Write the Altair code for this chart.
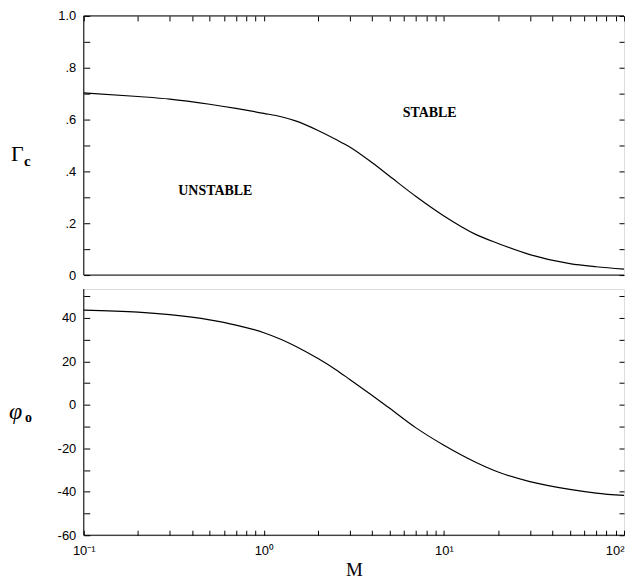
import altair as alt
import pandas as pd

# ---- data ----
M = [0.1, 0.2, 0.3, 0.5, 0.7, 1.0, 1.25, 1.5, 2.0, 2.5, 3.0, 4.0, 5.0, 7.0, 10, 15, 20, 30, 50, 70, 100]
gamma_c = [0.703, 0.689, 0.679, 0.659, 0.643, 0.624, 0.611, 0.595, 0.558, 0.524, 0.494, 0.433,
           0.381, 0.303, 0.228, 0.157, 0.122, 0.079, 0.044, 0.032, 0.023]
phi_o = [43.6, 42.7, 41.5, 39.1, 36.7, 33.2, 30.1, 27.0, 21.3, 16.3, 11.7, 4.3, -1.6, -10.6,
         -18.6, -26.4, -30.9, -35.3, -38.9, -40.6, -41.7]

x_ticks = [0.1, 0.2, 0.3, 0.4, 0.5, 0.6, 0.7, 0.8, 0.9,
           1, 2, 3, 4, 5, 6, 7, 8, 9,
           10, 20, 30, 40, 50, 60, 70, 80, 90, 100]
gamma_ticks = [0, 0.1, 0.2, 0.3, 0.4, 0.5, 0.6, 0.7, 0.8, 0.9, 1.0]
phi_ticks = [-60, -50, -40, -30, -20, -10, 0, 10, 20, 30, 40, 50]

df = pd.DataFrame({"M": M, "gamma": gamma_c, "phi": phi_o})
one = pd.DataFrame({"k": [0]})

W = 542
H1 = 260
H2 = 247
SANS = "Liberation Sans"
SERIF = "Liberation Serif"

xscale = alt.Scale(type="log", domain=[0.1, 100], nice=False)
gscale = alt.Scale(domain=[0, 1], nice=False, zero=False)
pscale = alt.Scale(domain=[-60, 53.3], nice=False, zero=False)

common_axis = dict(grid=False, domain=False, tickColor="black", labelColor="black",
                   labelFont=SANS, labelFontSize=13, title=None, tickWidth=1)

g_label = ("abs(round(datum.value*10)) % 2 == 1 ? '' : (datum.value == 0 ? '0' : "
           "(datum.value >= 0.99 ? '1.0' : replace(format(datum.value, '.1f'), '0.', '.')))")
p_label = "datum.value % 20 == 0 ? '' + datum.value : ''"
x_label = ("datum.value == 0.1 ? '10⁻¹' : datum.value == 1 ? '10⁰' : "
           "datum.value == 10 ? '10¹' : datum.value == 100 ? '10²' : ''")

# ---------------- top panel ----------------
top_line = alt.Chart(df).mark_line(color="black", strokeWidth=1.2, interpolate="monotone").encode(
    x=alt.X("M:Q", scale=xscale,
            axis=alt.Axis(orient="top", values=x_ticks, labels=False, tickSize=5, offset=-5,
                          **common_axis)),
    y=alt.Y("gamma:Q", scale=gscale,
            axis=alt.Axis(orient="left", values=gamma_ticks, labelExpr=g_label, tickSize=6,
                          offset=-6, labelPadding=8, **common_axis)),
)
top_right = alt.Chart(df).mark_line(opacity=0).encode(
    x=alt.X("M:Q", scale=xscale, axis=None),
    y=alt.Y("gamma:Q", scale=gscale,
            axis=alt.Axis(orient="right", values=gamma_ticks, labels=False, tickSize=5,
                          offset=-5, **common_axis)),
)
rule_style = dict(color="black", strokeWidth=1)
top_borders = [
    alt.Chart(one).mark_rule(**rule_style).encode(x=alt.value(0), y=alt.value(0), y2=alt.value(H1)),
    alt.Chart(one).mark_rule(**rule_style).encode(x=alt.value(0), x2=alt.value(W), y=alt.value(0)),
    alt.Chart(one).mark_rule(**rule_style).encode(x=alt.value(0), x2=alt.value(W), y=alt.value(H1)),
]
top_texts = [
    alt.Chart(one).mark_text(text="UNSTABLE", font=SERIF, fontSize=14, fontWeight="bold",
                             color="black").encode(
        x=alt.value(132), y=alt.value(176)),
    alt.Chart(one).mark_text(text="STABLE", font=SERIF, fontSize=14, fontWeight="bold",
                             color="black").encode(
        x=alt.value(347), y=alt.value(97)),
    alt.Chart(one).mark_text(text="Γ", font=SERIF, fontSize=22, align="left",
                             baseline="middle", color="black").encode(
        x=alt.value(-73), y=alt.value(139)),
    alt.Chart(one).mark_text(text="c", font=SERIF, fontSize=15, fontWeight="bold", align="left",
                             baseline="middle", color="black").encode(
        x=alt.value(-60), y=alt.value(146)),
]
top = alt.layer(top_line, top_right, *top_borders, *top_texts).resolve_axis(
    x="independent", y="independent").properties(width=W, height=H1)

# ---------------- bottom panel ----------------
bot_line = alt.Chart(df).mark_line(color="black", strokeWidth=1.2, interpolate="monotone").encode(
    x=alt.X("M:Q", scale=xscale,
            axis=alt.Axis(orient="bottom", values=x_ticks, labelExpr=x_label, tickSize=5,
                          offset=-5, labelPadding=9, labelAlign={
                              "condition": {"test": "datum.value >= 100", "value": "right"},
                              "value": "center"},
                          grid=False, domain=False, tickColor="black", labelColor="black",
                          labelFont=SANS, labelFontSize=13, tickWidth=1,
                          title="M", titleFont=SERIF, titleFontSize=19,
                          titleFontWeight="normal", titleColor="black", titlePadding=3)),
    y=alt.Y("phi:Q", scale=pscale,
            axis=alt.Axis(orient="left", values=phi_ticks, labelExpr=p_label, tickSize=6,
                          offset=-6, labelPadding=8, **common_axis)),
)
bot_right = alt.Chart(df).mark_line(opacity=0).encode(
    x=alt.X("M:Q", scale=xscale, axis=None),
    y=alt.Y("phi:Q", scale=pscale,
            axis=alt.Axis(orient="right", values=phi_ticks, labels=False, tickSize=5,
                          offset=-5, **common_axis)),
)
bot_borders = [
    alt.Chart(one).mark_rule(**rule_style).encode(x=alt.value(0), y=alt.value(0), y2=alt.value(H2)),
    alt.Chart(one).mark_rule(**rule_style).encode(x=alt.value(0), x2=alt.value(W), y=alt.value(H2)),
]
bot_texts = [
    alt.Chart(one).mark_text(text="φ", font=SERIF, fontSize=24, fontStyle="italic", align="left",
                             baseline="middle", color="black").encode(
        x=alt.value(-75), y=alt.value(123)),
    alt.Chart(one).mark_text(text="o", font=SERIF, fontSize=14, fontWeight="bold", align="left",
                             baseline="middle", color="black").encode(
        x=alt.value(-59), y=alt.value(129)),
]
bottom = alt.layer(bot_line, bot_right, *bot_borders, *bot_texts).resolve_axis(
    x="independent", y="independent").properties(width=W, height=H2)

chart = alt.vconcat(top, bottom, spacing=5).properties(
    padding={"left": 0, "top": 0, "right": 0, "bottom": 0}
).configure_view(stroke=None).configure(background="white")

chart.save("out.html", embed_options={"renderer": "svg", "actions": False})
